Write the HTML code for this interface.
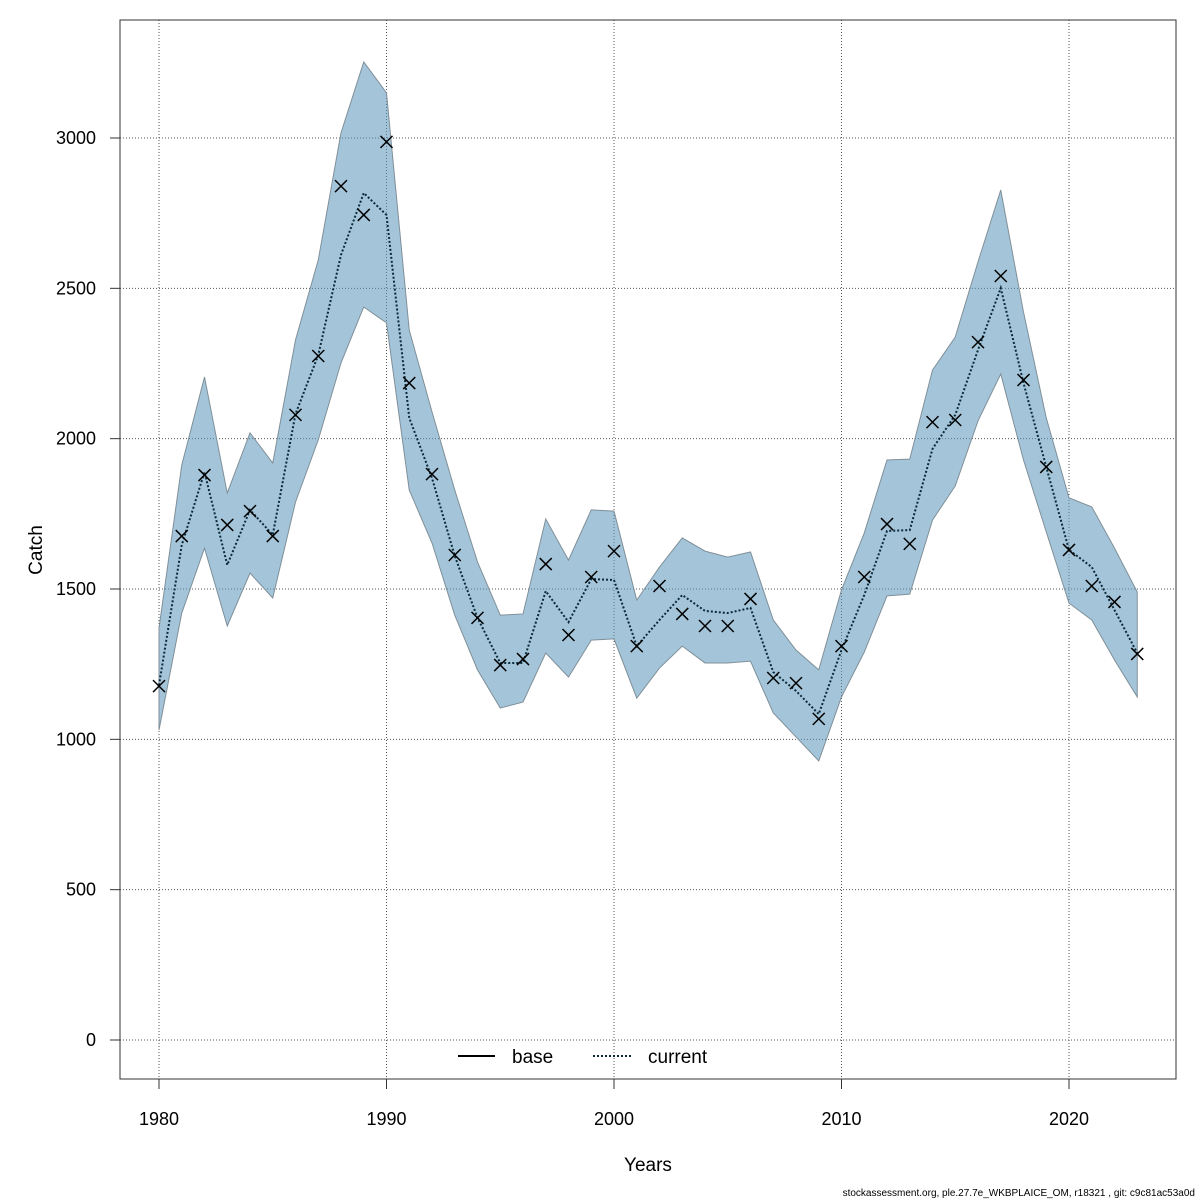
<!DOCTYPE html>
<html><head><meta charset="utf-8"><style>
body{margin:0;background:#fff}
svg{font-family:"Liberation Sans",sans-serif;display:block}
</style></head><body>
<svg id="c" width="1200" height="1200"></svg>
<script>
const years=[1980,1981,1982,1983,1984,1985,1986,1987,1988,1989,1990,1991,1992,1993,1994,1995,1996,1997,1998,1999,2000,2001,2002,2003,2004,2005,2006,2007,2008,2009,2010,2011,2012,2013,2014,2015,2016,2017,2018,2019,2020,2021,2022,2023];
const observed=[1177,1676,1879,1713,1759,1676,2079,2275,2840,2744,2987,2185,1882,1613,1404,1247,1267,1583,1347,1540,1626,1310,1510,1417,1377,1377,1467,1204,1187,1068,1310,1540,1716,1650,2055,2062,2321,2541,2195,1906,1630,1510,1457,1284];
const estimate=[1180,1646,1889,1580,1763,1680,2082,2278,2611,2817,2744,2069,1869,1610,1404,1254,1254,1493,1390,1533,1530,1310,1397,1480,1427,1420,1437,1224,1161,1084,1297,1480,1693,1696,1966,2079,2295,2501,2185,1906,1630,1573,1430,1287];
const upper=[1370,1912,2205,1819,2019,1919,2328,2594,3017,3253,3150,2361,2089,1829,1590,1413,1417,1733,1596,1763,1759,1463,1573,1670,1626,1606,1623,1397,1297,1231,1497,1686,1929,1932,2228,2338,2588,2827,2421,2069,1803,1773,1636,1490];
const lower=[1031,1420,1636,1377,1553,1470,1789,1996,2252,2438,2385,1829,1653,1413,1231,1104,1124,1287,1207,1330,1334,1137,1237,1310,1254,1254,1260,1088,1008,928,1141,1290,1477,1483,1729,1843,2059,2215,1929,1690,1453,1397,1264,1141];
const xTicks=[1980,1990,2000,2010,2020];
const yTicks=[0,500,1000,1500,2000,2500,3000];

const NS="http://www.w3.org/2000/svg";
const svg=document.getElementById('c');
const X=v=>159+(v-1980)*22.75;
const Y=v=>1040-v*0.30067;
function mk(t,a,p){const e=document.createElementNS(NS,t);for(const k in a)e.setAttribute(k,a[k]);(p||svg).appendChild(e);return e;}

// grid
xTicks.forEach(t=>{
  const g=mk('line',{x1:X(t),x2:X(t),y1:20,y2:1079,stroke:'#555','stroke-width':1,'stroke-dasharray':'1,2'});
  
  
});
yTicks.forEach(t=>{
  const g=mk('line',{x1:120,x2:1176,y1:Y(t),y2:Y(t),stroke:'#555','stroke-width':1,'stroke-dasharray':'1,2'});
  
  
});

// band
let pts=years.map((y,i)=>X(y)+','+Y(upper[i]));
for(let i=years.length-1;i>=0;i--)pts.push(X(years[i])+','+Y(lower[i]));
const band=mk('polygon',{points:pts.join(' '),fill:'rgba(90,150,185,0.55)',stroke:'#7f8f99','stroke-width':1});



// estimate line
const line=mk('polyline',{points:years.map((y,i)=>X(y)+','+Y(estimate[i])).join(' '),fill:'none',stroke:'#0a2a3a','stroke-width':2,'stroke-dasharray':'2,2'});



// observed markers
years.forEach((y,i)=>{
  const cx=X(y),cy=Y(observed[i]),s=6;
  const m=mk('path',{d:`M${cx-s},${cy-s}L${cx+s},${cy+s}M${cx-s},${cy+s}L${cx+s},${cy-s}`,stroke:'#000','stroke-width':1.5});
  
  
});

// box
const box=mk('rect',{x:120,y:20,width:1056,height:1059,fill:'none',stroke:'#333','stroke-width':1});



// axes ticks
xTicks.forEach(t=>{
  mk('line',{x1:X(t),x2:X(t),y1:1079,y2:1089,stroke:'#333'});
  const l=mk('text',{x:X(t),y:1125,'text-anchor':'middle','font-size':18});
  l.textContent=t;
  
  
});
yTicks.forEach(t=>{
  mk('line',{x1:110,x2:120,y1:Y(t),y2:Y(t),stroke:'#333'});
  const l=mk('text',{x:96,y:Y(t)+6,'text-anchor':'end','font-size':18});
  l.textContent=t;
  
  
});
</script>
<svg width="0" height="0"></svg>
<div style="position:absolute;left:0;top:0;width:1200px;height:1200px;pointer-events:none">
<svg width="1200" height="1200" style="font-family:'Liberation Sans',sans-serif">
<text x="648" y="1171" text-anchor="middle" font-size="19">Years</text>
<text x="42" y="550" text-anchor="middle" font-size="19" transform="rotate(-90 42 550)">Catch</text>
<g>
<line x1="458" x2="495" y1="1056" y2="1056" stroke="#000" stroke-width="2"/>
<text x="512" y="1063" font-size="19">base</text>
<line x1="593" x2="631" y1="1056" y2="1056" stroke="#0a2a3a" stroke-width="2" stroke-dasharray="2,2"/>
<text x="648" y="1063" font-size="19">current</text>
</g>
<text x="1195" y="1196" text-anchor="end" font-size="10">stockassessment.org, ple.27.7e_WKBPLAICE_OM, r18321 , git: c9c81ac53a0d</text>
</svg>
</div>
</body></html>
